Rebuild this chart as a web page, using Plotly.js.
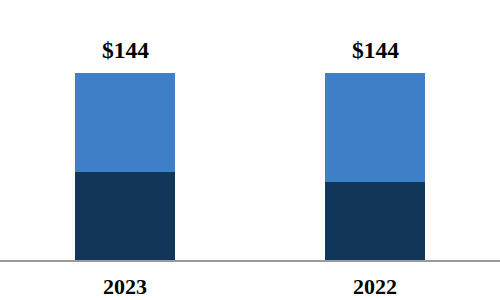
<!DOCTYPE html>
<html>
<head>
<meta charset="utf-8">
<script src="https://cdn.plot.ly/plotly-3.0.1.min.js"></script>
<style>html,body{margin:0;padding:0;background:#fff;}#chart{width:500px;height:300px;}</style>
</head>
<body>
<div id="chart"></div>
<script>
const categories = ["2023", "2022"];
const bottomValues = [68, 60];
const topValues = [76, 84];
const totalLabels = ["&#36;144", "&#36;144"];

const totals = bottomValues.map((v, i) => v + topValues[i]);

const data = [
  {type: "bar", x: categories, y: bottomValues, marker: {color: "#12365a"}, width: 0.4, hoverinfo: "none"},
  {type: "bar", x: categories, y: topValues, marker: {color: "#3f7fc8"}, width: 0.4, hoverinfo: "none"}
];

const annotations = categories.map((c, i) => ({
  x: i, y: totals[i], xref: "x", yref: "y", text: "<b>" + totalLabels[i] + "</b>", showarrow: false,
  yanchor: "bottom", yshift: 8,
  font: {family: "Liberation Serif", size: 23.5, color: "#000"}
}));

const layout = {
  width: 500, height: 300,
  margin: {l: 0, r: 0, t: 0, b: 40},
  barmode: "stack",
  showlegend: false,
  paper_bgcolor: "#fff", plot_bgcolor: "#fff",
  xaxis: {
    type: "category", range: [-0.5, 1.5], showline: true, linecolor: "#9a9a9a", linewidth: 2,
    showgrid: false, zeroline: false, ticks: "",
    tickfont: {family: "Liberation Serif", size: 22, color: "#000", weight: "bold"},
    ticklabelstandoff: 6
  },
  yaxis: {range: [0, 200.5], visible: false, showgrid: false, zeroline: false},
  annotations: annotations
};

Plotly.newPlot("chart", data, layout, {staticPlot: true, displayModeBar: false});
</script>
</body>
</html>
